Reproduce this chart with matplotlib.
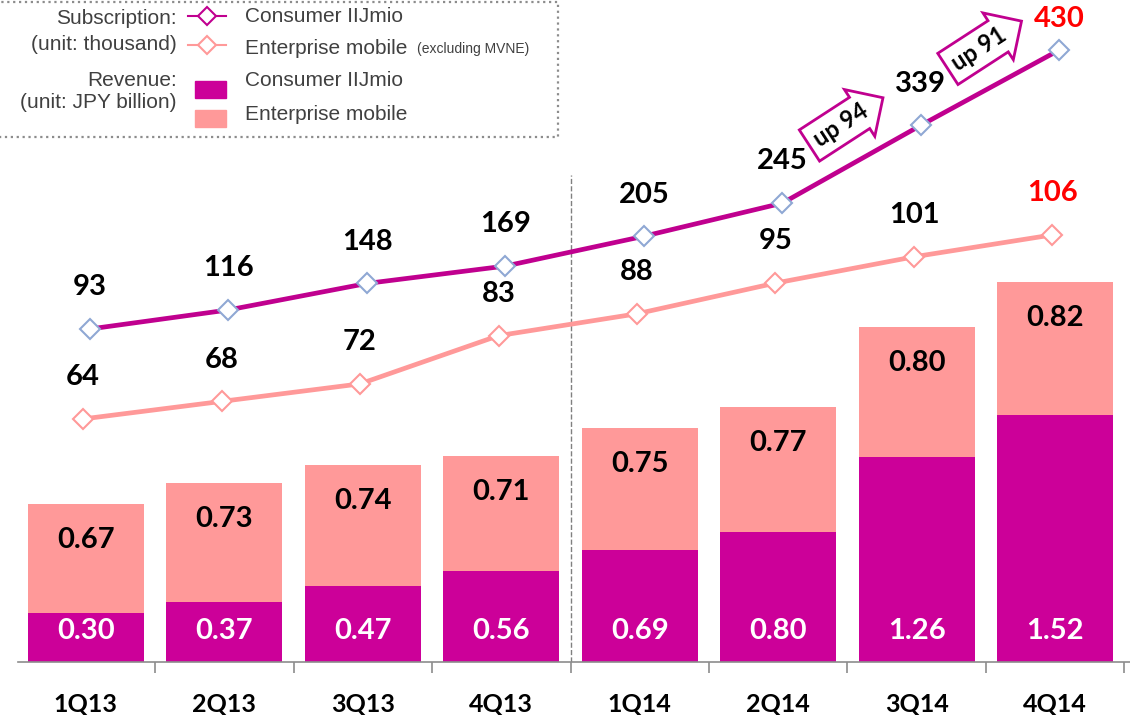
import matplotlib
matplotlib.use("Agg")
from matplotlib import pyplot as plt
from matplotlib.patches import Rectangle
from matplotlib.lines import Line2D

quarters = ['1Q13', '2Q13', '3Q13', '4Q13', '1Q14', '2Q14', '3Q14', '4Q14']
rev_consumer = [0.30, 0.37, 0.47, 0.56, 0.69, 0.80, 1.26, 1.52]
rev_enterprise = [0.67, 0.73, 0.74, 0.71, 0.75, 0.77, 0.80, 0.82]
subs_consumer = [93, 116, 148, 169, 205, 245, 339, 430]
subs_enterprise = [64, 68, 72, 83, 88, 95, 101, 106]
growth = [(5, 6, 'up 94'), (6, 7, 'up 91')]

MAGENTA = '#CC0099'
PINK = '#FF9999'
GREY = '#404040'
W, H = 1130, 715

plt.rcParams['font.family'] = ['Lato', 'DejaVu Sans']

fig = plt.figure(figsize=(W / 100, H / 100), dpi=100)
ax = fig.add_axes([18 / W, 53 / H, 1 - 18 / W, 662 / H])
x = list(range(len(quarters)))

# stacked revenue bars
ax.bar(x, rev_consumer, width=0.84, color=MAGENTA, zorder=2)
ax.bar(x, rev_enterprise, width=0.84, bottom=rev_consumer, color=PINK, zorder=2)
for i in x:
    ax.annotate(f'{rev_consumer[i]:.2f}', (i, 0), xytext=(0, 22), textcoords='offset points',
                ha='center', va='center', color='white', fontsize=21, fontweight='bold')
    top = rev_consumer[i] + rev_enterprise[i]
    ax.annotate(f'{rev_enterprise[i]:.2f}', (i, top), xytext=(0, -26), textcoords='offset points',
                ha='center', va='center', color='black', fontsize=21, fontweight='bold')

ax.set_xlim(-0.49, 7.54)
ax.set_ylim(0, 662 / 162.5)
for s in ['top', 'right', 'left']:
    ax.spines[s].set_visible(False)
ax.spines['bottom'].set_color('#8c8c8c')
ax.spines['bottom'].set_linewidth(1.2)
ax.set_yticks([])
ax.set_xticks(x)
ax.set_xticklabels(quarters, fontsize=18, fontweight='bold')
ax.tick_params(axis='x', which='major', length=0, pad=22)
ax.set_xticks([i + 0.5 for i in x], minor=True)
ax.tick_params(axis='x', which='minor', length=8, color='#8c8c8c', width=1.2)
ax.axvline(3.5, ymin=0, ymax=(662 - 175) / 662, color='#808080', ls='--', lw=1, zorder=1)

# subscription lines on their own scales
ax_c = ax.twinx()
ax_e = ax.twinx()
for a in (ax_c, ax_e):
    a.set_axis_off()
    a.set_xlim(ax.get_xlim())
ax_c.set_ylim(-309.2, 490.3)
ax_e.set_ylim(8.53, 159.6)

xc = [i + 0.03 for i in x]
xe = [i - 0.02 for i in x]
ax_c.plot(xc, subs_consumer, color='#C0008F', lw=3.4, marker='D', markersize=10,
          markerfacecolor='white', markeredgecolor='#8FA8D4', markeredgewidth=1.5, zorder=3)
ax_e.plot(xe, subs_enterprise, color=PINK, lw=3.4, marker='D', markersize=10,
          markerfacecolor='white', markeredgecolor=PINK, markeredgewidth=1.5, zorder=3)

n = len(x)
for i in x:
    last = i == n - 1
    ax_c.annotate(str(subs_consumer[i]), (xc[i], subs_consumer[i]),
                  xytext=(0, 22 if last else 30), textcoords='offset points',
                  ha='center', va='center', fontsize=21, fontweight='bold',
                  color='red' if last else 'black')
    ax_e.annotate(str(subs_enterprise[i]), (xe[i], subs_enterprise[i]),
                  xytext=(0, 30), textcoords='offset points',
                  ha='center', va='center', fontsize=21, fontweight='bold',
                  color='red' if last else 'black')

for a, b, txt in growth:
    mx = (xc[a] + xc[b]) / 2
    my = (subs_consumer[a] + subs_consumer[b]) / 2
    ax_c.annotate(txt, (mx, my), xytext=(-8, 28), textcoords='offset points',
                  ha='center', va='center', rotation=33, fontsize=17, fontweight='bold',
                  bbox=dict(boxstyle='rarrow,pad=0.3', fc='white', ec='#C0008F', lw=2),
                  zorder=5)


# legend drawn by hand in pixel coordinates
def fx(px):
    return px / W


def fy(py):
    return 1 - py / H


fig.add_artist(Rectangle((fx(-5), fy(137)), fx(563), 135 / H, fill=False,
                         ec='#8c8c8c', ls=':', lw=1.6, transform=fig.transFigure))
leg_font = ['Liberation Sans', 'DejaVu Sans']
for txt, py in [('Subscription:', 18), ('(unit: thousand)', 45), ('Revenue:', 80), ('(unit: JPY billion)', 103)]:
    fig.text(fx(177), fy(py), txt, ha='right', va='center', fontsize=15, color=GREY, family=leg_font)

for py, col, edge in [(16, '#C0008F', '#C0008F'), (45, PINK, PINK)]:
    fig.add_artist(Line2D([fx(188), fx(226)], [fy(py), fy(py)], color=col, lw=1.5,
                          transform=fig.transFigure))
    fig.add_artist(Line2D([fx(207)], [fy(py)], color=col, marker='D', markersize=9,
                          markerfacecolor='white', markeredgecolor=edge, markeredgewidth=1.5,
                          transform=fig.transFigure))
fig.add_artist(Rectangle((fx(195), fy(98)), 31 / W, 17 / H, color=MAGENTA, transform=fig.transFigure))
fig.add_artist(Rectangle((fx(195), fy(127)), 31 / W, 17 / H, color=PINK, transform=fig.transFigure))

fig.text(fx(245), fy(17), 'Consumer IIJmio', ha='left', va='center', fontsize=15, color=GREY, family=leg_font)
fig.text(fx(245), fy(48), 'Enterprise mobile', ha='left', va='center', fontsize=15, color=GREY, family=leg_font)
fig.text(fx(417), fy(49), '(excluding MVNE)', ha='left', va='center', fontsize=10, color=GREY, family=leg_font)
fig.text(fx(245), fy(81), 'Consumer IIJmio', ha='left', va='center', fontsize=15, color=GREY, family=leg_font)
fig.text(fx(245), fy(114), 'Enterprise mobile', ha='left', va='center', fontsize=15, color=GREY, family=leg_font)

fig.savefig('out.png', dpi=100)
